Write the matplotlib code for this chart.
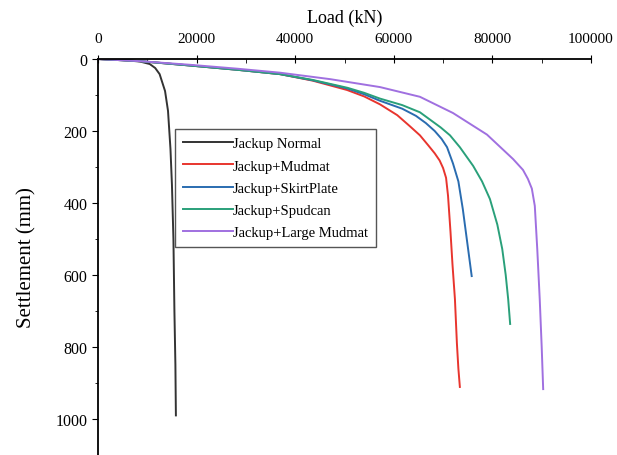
import numpy as np
import matplotlib.pyplot as plt
from matplotlib.ticker import MultipleLocator

plt.rcParams['font.family'] = ['Liberation Serif', 'DejaVu Serif']

# load (kN) vs settlement (mm)
normal_load = [0, 5000, 8500, 10500, 11600, 12500, 13600, 14200, 14700, 15000, 15300,
               15500, 15700, 15800]
normal_set = [0, 3, 7, 14, 25, 42, 89, 144, 250, 350, 500, 700, 850, 990]

mudmat_load = [0, 8500, 18600, 28300, 36900, 43500, 50500, 54000, 57200, 60700, 63200,
               65300, 67000, 68300, 69300, 70000, 70600, 71000, 71500, 71900, 72400,
               72800, 73100, 73400]
mudmat_set = [0, 6, 18, 30, 42, 60, 86, 104, 126, 156, 186, 212, 240, 262, 282, 303,
              330, 380, 480, 570, 667, 790, 860, 911]

skirt_load = [0, 8500, 18600, 28300, 36900, 43500, 50600, 54000, 57200, 61700, 64500,
              66500, 68300, 69700, 70800, 72000, 73100, 74000, 74900, 75800]
skirt_set = [0, 6, 18, 30, 42, 59, 82, 98, 116, 138, 158, 178, 200, 222, 245, 290, 340,
             417, 510, 603]

spud_load = [0, 8500, 18600, 28300, 36900, 43500, 50600, 54000, 57200, 61700, 65300,
             67300, 69500, 71400, 73400, 76100, 77900, 79500, 81000, 82000, 82700,
             83200, 83600]
spud_set = [0, 6, 18, 30, 42, 58, 80, 94, 110, 128, 148, 168, 190, 212, 245, 297, 340,
            389, 460, 528, 600, 667, 736]

large_load = [0, 8500, 18600, 28300, 36900, 47100, 57200, 65300, 72000, 78900, 84200,
              86200, 87200, 88000, 88600, 89100, 89600, 90000, 90300]
large_set = [0, 6, 16, 27, 38, 56, 78, 105, 150, 210, 278, 308, 333, 360, 408, 528,
             667, 800, 917]

series = [
    (normal_load, normal_set, '#333333', 'Jackup Normal'),
    (mudmat_load, mudmat_set, '#e8352e', 'Jackup+Mudmat'),
    (skirt_load, skirt_set, '#2a6cb0', 'Jackup+SkirtPlate'),
    (spud_load, spud_set, '#2aa07a', 'Jackup+Spudcan'),
    (large_load, large_set, '#a070e0', 'Jackup+Large Mudmat'),
]

fig = plt.figure(figsize=(6.17, 4.56), dpi=100)
ax = fig.add_axes([98/617, 0.0, 493/617, 396/456])

for x, y, c, lab in series:
    ax.plot(x, y, color=c, lw=1.4, label=lab)

ax.set_xlim(0, 100000)
ax.set_ylim(1100, 0)
ax.xaxis.tick_top()
ax.xaxis.set_label_position('top')
ax.set_xlabel('Load (kN)', fontsize=13, labelpad=7)
ax.set_ylabel('Settlement (mm)', fontsize=15, labelpad=14)
ax.set_xticks([0, 20000, 40000, 60000, 80000, 100000])
ax.set_yticks([0, 200, 400, 600, 800, 1000])
ax.xaxis.set_minor_locator(MultipleLocator(10000))
ax.yaxis.set_minor_locator(MultipleLocator(100))
ax.tick_params(axis='x', which='major', direction='inout', length=6, labelsize=11, pad=7)
ax.tick_params(axis='x', which='minor', direction='in', length=3)
ax.tick_params(axis='y', which='major', direction='out', length=4, labelsize=11.5)
ax.tick_params(axis='y', which='minor', direction='out', length=2)
ax.spines['right'].set_visible(False)
ax.spines['bottom'].set_visible(False)
for s in ['top', 'left']:
    ax.spines[s].set_linewidth(1.3)

leg = ax.legend(loc='upper left', bbox_to_anchor=(0.156, 0.823), fontsize=10.5,
                handlelength=3.4, handletextpad=0.0, borderpad=0.55, labelspacing=0.62,
                borderaxespad=0, fancybox=False, edgecolor='#555555', framealpha=1)
leg.get_frame().set_linewidth(1.0)

fig.savefig('out.png', dpi=100)
